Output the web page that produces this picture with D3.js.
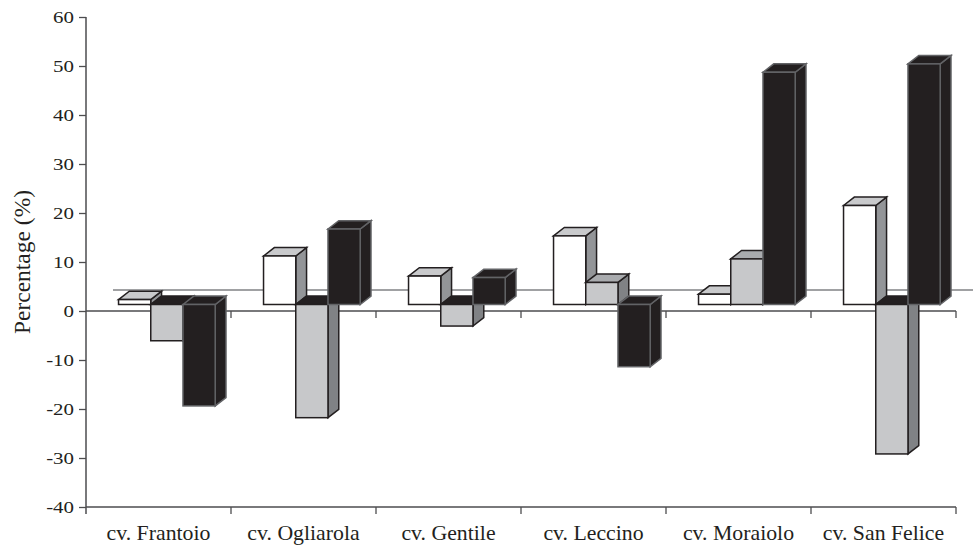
<!DOCTYPE html>
<html>
<head>
<meta charset="utf-8">
<script src="https://cdn.jsdelivr.net/npm/d3@7"></script>
<style>
  html, body { margin: 0; padding: 0; background: #ffffff; }
  svg { display: block; }
  text { font-family: "Liberation Serif", "Times New Roman", serif; fill: #231f20; }
</style>
</head>
<body>
<svg id="chart" width="973" height="545"></svg>
<script>
// Cultivars along the category axis
const categories = ["cv. Frantoio", "cv. Ogliarola", "cv. Gentile", "cv. Leccino", "cv. Moraiolo", "cv. San Felice"];

// Percentage values, one array per series (white, grey, black columns)
const seriesWhite = [1.0, 9.9, 5.8, 14.0, 2.1, 20.2];
const seriesGrey  = [-7.4, -23.1, -4.4, 4.5, 9.3, -30.5];
const seriesBlack = [-20.7, 15.4, 5.5, -12.7, 47.4, 49.1];

// Value axis ticks
const yTicks = [-40, -30, -20, -10, 0, 10, 20, 30, 40, 50, 60];

const yTitle = "Percentage (%)";

// Face colours for each series: front, top, side, outline
const styles = [
  { front: "#ffffff", top: "#c9cacc", side: "#939598", negTop: "#231f20", stroke: "#231f20" },
  { front: "#c7c8ca", top: "#a9abae", side: "#808285", negTop: "#231f20", stroke: "#231f20" },
  { front: "#231f20", top: "#231f20", side: "#231f20", negTop: "#231f20", stroke: "#626366" }
];

const svg = d3.select("#chart");

const x = d3.scaleBand().domain(categories).range([86, 956]).padding(0);
const y = d3.scaleLinear().domain([-40, 60]).range([507, 17]);

// Oblique depth of the 3-D box and where the columns sit inside it
const DEPTH_DX = 27, DEPTH_DY = 21;
const BAR_FRONT = 0.31, BAR_BACK = 0.71;
const fdx = DEPTH_DX * BAR_FRONT, fdy = DEPTH_DY * BAR_FRONT;
const bdx = DEPTH_DX * (BAR_BACK - BAR_FRONT), bdy = DEPTH_DY * (BAR_BACK - BAR_FRONT);

const bw = x.bandwidth();
const barW = bw / 4.5;            // gap width 150 %
const groupOffset = (bw - 3 * barW) / 2;

// Back-wall zero gridline
svg.append("line")
  .attr("x1", x.range()[0] + DEPTH_DX).attr("x2", x.range()[1] + DEPTH_DX)
  .attr("y1", y(0) - DEPTH_DY).attr("y2", y(0) - DEPTH_DY)
  .attr("stroke", "#808285").attr("stroke-width", 1.3);

// Front zero line with category separators
svg.append("line")
  .attr("x1", x.range()[0]).attr("x2", x.range()[1])
  .attr("y1", y(0)).attr("y2", y(0))
  .attr("stroke", "#4d4d4f").attr("stroke-width", 1.5);
svg.append("g").selectAll("line")
  .data(categories.slice(1).map(c => x(c)).concat([x.range()[1]]))
  .join("line")
  .attr("x1", d => d).attr("x2", d => d)
  .attr("y1", y(0)).attr("y2", y(0) + 7)
  .attr("stroke", "#4d4d4f").attr("stroke-width", 1.3);

// Columns, drawn left to right so nearer faces overlap correctly
const series = [seriesWhite, seriesGrey, seriesBlack];
const bars = [];
categories.forEach((c, ci) => {
  series.forEach((s, si) => {
    bars.push({ cat: c, si, v: s[ci] });
  });
});

const barLayer = svg.append("g");
bars.forEach(b => {
  const st = styles[b.si];
  const x0 = x(b.cat) + groupOffset + b.si * barW + fdx;
  const x1 = x0 + barW;
  const y0 = y(0) - fdy;
  const yv = y(b.v) - fdy;
  const g = barLayer.append("g")
    .attr("stroke", st.stroke).attr("stroke-width", 1.5).attr("stroke-linejoin", "miter");
  const yTop = Math.min(y0, yv), yBot = Math.max(y0, yv);
  const pt = p => p.map(q => q.join(",")).join(" ");
  // side face
  g.append("polygon")
    .attr("points", pt([[x1, yTop], [x1 + bdx, yTop - bdy], [x1 + bdx, yBot - bdy], [x1, yBot]]))
    .attr("fill", st.side);
  // top face
  g.append("polygon")
    .attr("points", pt([[x0, yTop], [x0 + bdx, yTop - bdy], [x1 + bdx, yTop - bdy], [x1, yTop]]))
    .attr("fill", b.v >= 0 ? st.top : st.negTop);
  // front face
  g.append("rect")
    .attr("x", x0).attr("y", yTop)
    .attr("width", barW).attr("height", Math.max(0.5, yBot - yTop))
    .attr("fill", st.front);
});

// Value axis
const yAxis = svg.append("g")
  .attr("transform", `translate(${x.range()[0]},0)`)
  .call(d3.axisLeft(y).tickValues(yTicks).tickSize(7).tickFormat(d => String(d)));
yAxis.select(".domain").remove();
yAxis.selectAll(".tick line").attr("stroke", "#4d4d4f").attr("stroke-width", 1.3);
yAxis.selectAll(".tick text")
  .attr("x", 0).attr("dy", "0.34em")
  .attr("transform", "translate(-12,0) scale(1.23,1)")
  .style("font-size", "17px")
  .style("font-family", "'Liberation Serif', 'Times New Roman', serif")
  .attr("fill", "#231f20");
svg.append("line")
  .attr("x1", x.range()[0]).attr("x2", x.range()[0])
  .attr("y1", y(60)).attr("y2", y(-40) + 7)
  .attr("stroke", "#4d4d4f").attr("stroke-width", 1.5);

// Category axis along the floor front edge
svg.append("line")
  .attr("x1", x.range()[0]).attr("x2", x.range()[1])
  .attr("y1", y(-40)).attr("y2", y(-40))
  .attr("stroke", "#4d4d4f").attr("stroke-width", 1.5);
svg.append("g").selectAll("line")
  .data(categories.slice(1).map(c => x(c)).concat([x.range()[1]]))
  .join("line")
  .attr("x1", d => d).attr("x2", d => d)
  .attr("y1", y(-40)).attr("y2", y(-40) + 7)
  .attr("stroke", "#4d4d4f").attr("stroke-width", 1.3);

const xAxis = svg.append("g")
  .attr("transform", `translate(0,${y(-40)})`)
  .call(d3.axisBottom(x).tickSize(0));
xAxis.select(".domain").remove();
xAxis.selectAll(".tick text")
  .attr("y", 33).attr("dy", 0)
  .attr("transform", "scale(1.09,1)")
  .style("font-size", "20px")
  .style("font-family", "'Liberation Serif', 'Times New Roman', serif")
  .attr("fill", "#231f20");

// Value axis title
svg.append("text")
  .attr("transform", `translate(30,${(y(60) + y(-40)) / 2}) rotate(-90)`)
  .attr("text-anchor", "middle")
  .style("font-size", "23.5px")
  .text(yTitle);
</script>
</body>
</html>
